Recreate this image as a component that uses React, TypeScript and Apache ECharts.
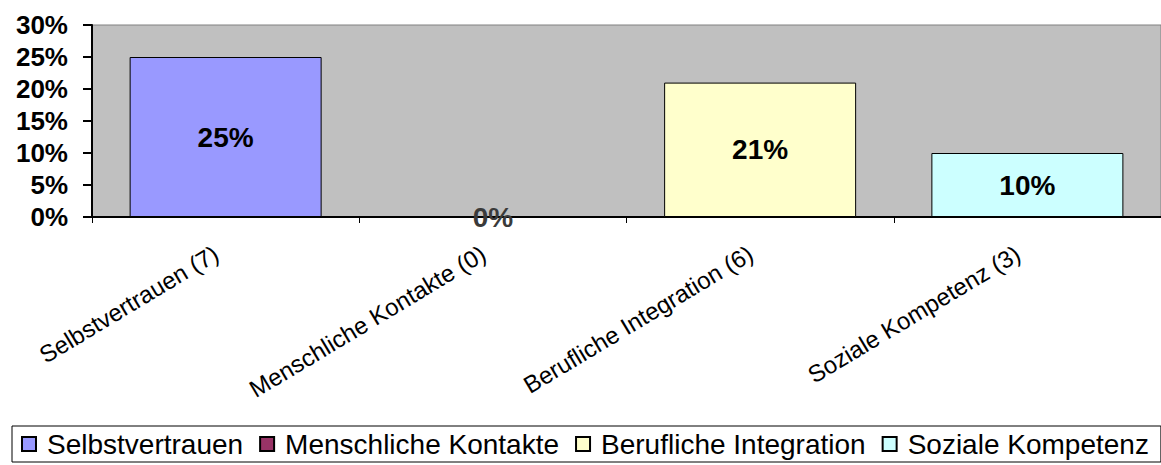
import React, { useEffect, useRef } from "react";
import * as echarts from "echarts";

const seriesNames = ["Selbstvertrauen", "Menschliche Kontakte", "Berufliche Integration", "Soziale Kompetenz"];
const counts = [7, 0, 6, 3];
const categories = seriesNames.map((n, i) => `${n} (${counts[i]})`);
const values = [0.25, 0, 0.21, 0.1];
const colors = ["#9999FF", "#993366", "#FFFFCC", "#CCFFFF"];
const labelColors = ["#000000", "#3a3a3a", "#000000", "#000000"];
const yTicks = [0, 0.05, 0.1, 0.15, 0.2, 0.25, 0.3];

const FONT = "'Liberation Sans', Arial, sans-serif";

export default function App() {
  const ref = useRef<HTMLDivElement>(null);
  useEffect(() => {
    if (!ref.current) return;
    const chart = echarts.init(ref.current, null, { renderer: "svg" });
    const series = seriesNames.map((name, i) => ({
      name,
      type: "bar",
      stack: "all",
      barWidth: 192,
      data: categories.map((_, j) => (j === i ? values[i] : "-")),
      itemStyle: { color: colors[i], borderColor: "#000", borderWidth: 1 },
      label: {
        show: true,
        position: "inside",
        fontFamily: FONT,
        fontWeight: "bold",
        fontSize: 28,
        color: labelColors[i],
        formatter: (p: any) => Math.round(p.value * 100) + "%",
      },
    }));
    chart.setOption({
      animation: false,
      textStyle: { fontFamily: FONT },
      grid: {
        left: 92,
        top: 25,
        width: 1072,
        height: 192,
        show: true,
        backgroundColor: "#C0C0C0",
        borderColor: "#808080",
        borderWidth: 1,
      },
      legend: {
        left: 12,
        top: 426,
        padding: [4, 12, 4, 9],
        itemWidth: 14,
        itemHeight: 14,
        itemGap: 16,
        icon: "rect",
        borderColor: "#000",
        borderWidth: 1,
        borderRadius: 0,
        textStyle: { fontSize: 28, color: "#000", fontFamily: FONT, padding: [0, 0, 0, 6] },
        data: seriesNames,
      },
      xAxis: {
        type: "category",
        data: categories,
        axisLine: { lineStyle: { color: "#000", width: 2 } },
        axisTick: { show: true, length: 6, lineStyle: { color: "#000", width: 1 } },
        axisLabel: {
          interval: 0,
          rotate: 31,
          margin: 29,
          padding: [0, 11, 0, 0],
          fontSize: 24,
          color: "#000",
          fontFamily: FONT,
        },
        splitLine: { show: false },
      },
      yAxis: {
        type: "value",
        min: yTicks[0],
        max: yTicks[yTicks.length - 1],
        interval: 0.05,
        axisLine: { show: true, lineStyle: { color: "#000", width: 2 } },
        axisTick: { show: true, length: 9, lineStyle: { color: "#000", width: 2 } },
        axisLabel: {
          margin: 24,
          fontSize: 26,
          fontWeight: "bold",
          color: "#000",
          fontFamily: FONT,
          formatter: (v: number) => Math.round(v * 100) + "%",
        },
        splitLine: { show: false },
      },
      series,
    });
    return () => chart.dispose();
  }, []);
  return (
    <div
      ref={ref}
      style={{ position: "fixed", left: 0, top: 0, width: 1161, height: 465, background: "#fff" }}
    />
  );
}
